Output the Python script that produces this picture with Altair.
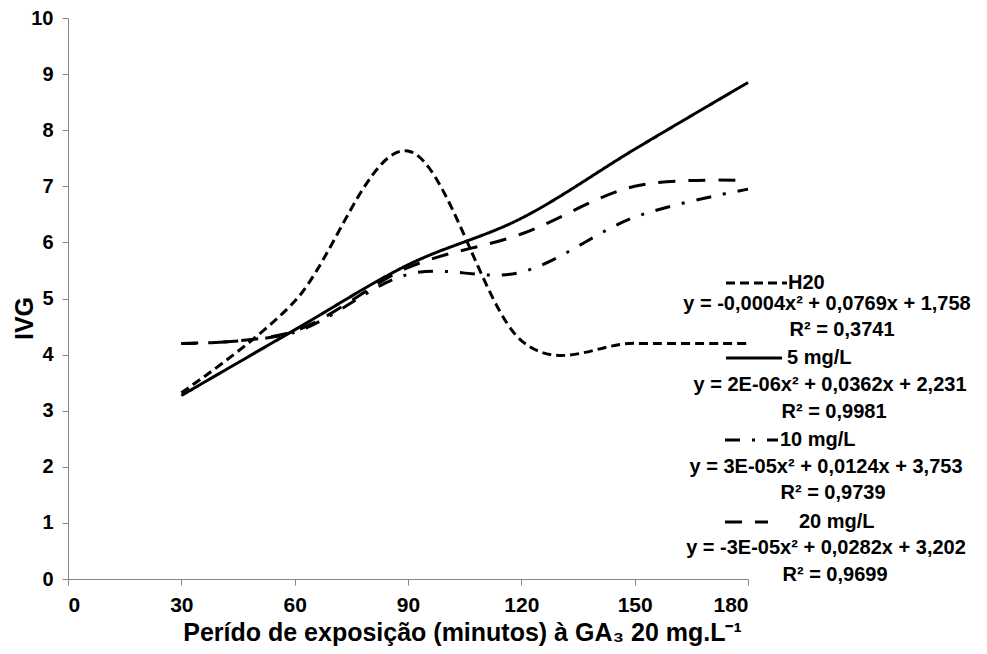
import altair as alt
import pandas as pd

# ---- data ----
minutes = [30, 60, 90, 120, 150, 180]
h2o = [3.32, 4.95, 7.63, 4.25, 4.20, 4.20]
mg5 = [3.27, 4.44, 5.60, 6.43, 7.66, 8.85]
mg10 = [4.20, 4.40, 5.43, 5.47, 6.45, 6.95]
mg20 = [4.20, 4.42, 5.55, 6.15, 7.00, 7.10]

series_names = ["H20", "5 mg/L", "10 mg/L", "20 mg/L"]
series_values = [h2o, mg5, mg10, mg20]
dashes = [[9, 5], [1, 0], [15, 12, 3, 12], [17, 13]]

equations = [
    "y = -0,0004x² + 0,0769x + 1,758",
    "y = 2E-06x² + 0,0362x + 2,231",
    "y = 3E-05x² + 0,0124x + 3,753",
    "y = -3E-05x² + 0,0282x + 3,202",
]
r2_labels = ["R² = 0,3741", "R² = 0,9981", "R² = 0,9739", "R² = 0,9699"]

x_ticks = [0, 30, 60, 90, 120, 150, 180]
y_ticks = list(range(0, 11))

x_title = "Perído de exposição (minutos) à GA₃ 20 mg.L⁻¹"
y_title = "IVG"

rows = []
for name, vals in zip(series_names, series_values):
    for m, v in zip(minutes, vals):
        rows.append({"min": m, "ivg": v, "series": name})
df = pd.DataFrame(rows)

FONT = "Liberation Sans"
W, H = 680, 561
LEG_FS = 20

lines = alt.Chart(df).mark_line(
    color="black", strokeWidth=3, interpolate="cardinal", clip=False
).encode(
    x=alt.X("min:Q",
            scale=alt.Scale(domain=[0, 180], nice=False),
            axis=alt.Axis(values=x_ticks, title=x_title, titleX=394, titleY=61,
                          titleAlign="center", titleBaseline="alphabetic",
                          labelPadding=9, labelFontSize=21)),
    y=alt.Y("ivg:Q",
            scale=alt.Scale(domain=[0, 10], nice=False),
            axis=alt.Axis(values=y_ticks, title=y_title, titleAngle=270,
                          titleX=-44, titleY=300, titleAlign="center",
                          titleBaseline="middle", labelPadding=9, labelFontSize=20)),
    strokeDash=alt.StrokeDash("series:N",
                              scale=alt.Scale(domain=series_names, range=dashes),
                              legend=None),
    detail="series:N",
)

# ---- legend drawn as layers (pixel positions relative to plot area) ----
key_rows_y = [265, 340, 422, 504]
eq_rows_y = [286, 367, 449, 530]
r2_rows_y = [312, 394, 475, 557]
eq_cx = [759, 762, 758, 758]
r2_cx = [774, 766, 765, 767]
key_x0 = [658, 658, 657, 657]
key_x1 = [719, 714, 710, 700]
key_text_x = [720, 719, 712, 731]

layers = [lines]
blank = alt.Chart(pd.DataFrame({"a": [0]}))
for i in range(4):
    layers.append(blank.mark_rule(color="black", strokeWidth=3,
                                  strokeDash=dashes[i]).encode(
        x=alt.value(key_x0[i]), x2=alt.value(key_x1[i]), y=alt.value(key_rows_y[i])))
    layers.append(blank.mark_text(text=series_names[i], align="left", baseline="middle",
                                  font=FONT, fontSize=LEG_FS, fontWeight="bold",
                                  color="black").encode(
        x=alt.value(key_text_x[i]), y=alt.value(key_rows_y[i])))
    layers.append(blank.mark_text(text=equations[i], align="center", baseline="middle",
                                  font=FONT, fontSize=LEG_FS, fontWeight="bold",
                                  color="black").encode(
        x=alt.value(eq_cx[i]), y=alt.value(eq_rows_y[i])))
    layers.append(blank.mark_text(text=r2_labels[i], align="center", baseline="middle",
                                  font=FONT, fontSize=LEG_FS, fontWeight="bold",
                                  color="black").encode(
        x=alt.value(r2_cx[i]), y=alt.value(r2_rows_y[i])))

chart = alt.layer(*layers).properties(
    width=W, height=H,
    autosize=alt.AutoSizeParams(type="none"),
    padding={"left": 60, "top": 10, "right": 231, "bottom": 67},
).configure_view(stroke=None).configure_axis(
    grid=False,
    domainColor="#868686",
    tickColor="#868686",
    tickSize=6,
    labelFont=FONT,
    labelFontWeight="bold",
    labelColor="black",
    titleFont=FONT,
    titleFontSize=25,
    titleFontWeight="bold",
    titleColor="black",
)

chart.save("out.html", embed_options={"renderer": "svg", "actions": False})
